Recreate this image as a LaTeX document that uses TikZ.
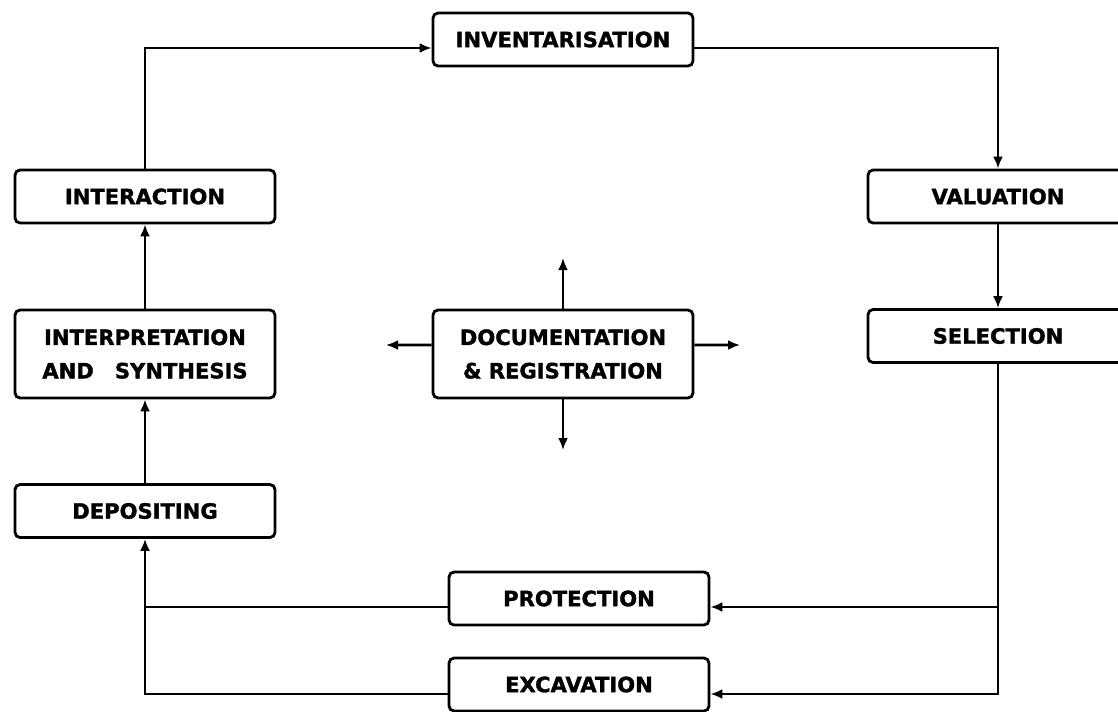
\documentclass[tikz,border=0pt]{standalone}
\usepackage{fontspec}
\setmainfont{DejaVu Sans}[BoldFeatures={FakeBold=1.5}]
\usepackage{tikz}
\usetikzlibrary{
  arrows.meta,
  positioning,
  calc,
  }

\begin{document}
\begin{tikzpicture}[x=0.02cm, y=-0.02cm, line width=1.6pt,
    every node/.style={draw, rounded corners=0.1cm, align=center,
        minimum width=5.2cm, minimum height=1.06cm, inner sep=0pt,
        font=\fontsize{12}{19}\selectfont\bfseries},
    tall/.style={minimum height=1.76cm},
    arr/.style={-{Latex[length=2.4mm,width=2mm]}}]
                \useasboundingbox (0,0) rectangle (1118,711);
                \node (inv) at (563,39.5) {INVENTARISATION};
                \node (inter) at (145,196.5) {INTERACTION};
                \node (val) at (998,196.5) {VALUATION};
                \node (sel) at (998,336) {SELECTION};
                \node[tall] (interp) at (145,354) {INTERPRETATION\\AND\quad SYNTHESIS};
                \node[tall] (doc) at (563,354) {DOCUMENTATION\\\& REGISTRATION};
                \node (dep) at (145,511) {DEPOSITING};
                \node (prot) at (579,598.5) {PROTECTION};
                \node (exc) at (579,684.5) {EXCAVATION};
                % free ends
                \coordinate (invL) at ([yshift=-0.17cm]inv.west);
                \coordinate (invR) at ([yshift=-0.17cm]inv.east);
                \coordinate (protR) at ([yshift=-0.17cm]prot.east);
                \coordinate (protL) at ([yshift=-0.17cm]prot.west);
                \coordinate (excR) at ([yshift=-0.19cm]exc.east);
                \coordinate (excL) at ([yshift=-0.19cm]exc.west);
                \coordinate (docW) at ([yshift=0.18cm]doc.west);
                \coordinate (docE) at ([yshift=0.18cm]doc.east);
                \coordinate (docN) at (563,258);
                \coordinate (docS) at (563,450);
                \coordinate (docWW) at (386,345);
                \coordinate (docEE) at (740,345);
                % cycle
                \draw[arr] (inter.north) |- (invL);
                \draw[arr] (invR) -| (val.north);
                \draw[arr] (val) -- (sel);
                \draw[arr] (sel.south) |- (excR);
                \draw[arr] (sel.south |- protR) -- (protR);
                \draw (protL) -- (protL -| dep.south);
                \draw[arr] (excL) -| (dep.south);
                \draw[arr] (dep) -- (interp);
                \draw[arr] (interp) -- (inter);
                % documentation
                \draw[arr] (doc.north) -- (docN);
                \draw[arr] (doc.south) -- (docS);
                \draw[arr] (docW) -- (docWW);
                \draw[arr] (docE) -- (docEE);
            \end{tikzpicture}
\end{document}
